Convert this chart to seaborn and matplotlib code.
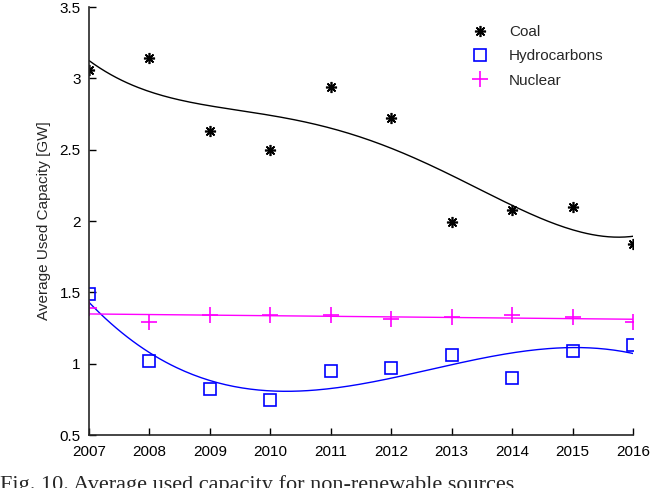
import numpy as np
import pandas as pd
import seaborn as sns
import matplotlib.pyplot as plt

# Data
years = [2007, 2008, 2009, 2010, 2011, 2012, 2013, 2014, 2015, 2016]
coal = [3.06, 3.14, 2.63, 2.50, 2.94, 2.72, 1.99, 2.08, 2.10, 1.84]
hydrocarbons = [1.49, 1.02, 0.82, 0.745, 0.95, 0.97, 1.06, 0.90, 1.09, 1.13]
nuclear = [1.39, 1.29, 1.34, 1.34, 1.34, 1.31, 1.33, 1.34, 1.33, 1.29]

sns.set_style('ticks')
plt.rcParams['font.family'] = ['Liberation Sans', 'DejaVu Sans']

fig = plt.figure(figsize=(6.5, 4.88), dpi=100)
ax = fig.add_axes([0.137, 0.1086, 0.837, 0.877])

series = {'Coal': (coal, 'black', 4),
          'Hydrocarbons': (hydrocarbons, 'blue', 3),
          'Nuclear': (nuclear, 'magenta', 1)}

# polynomial trend lines
xs = np.linspace(2007, 2016, 200)
for name, (vals, col, deg) in series.items():
    p = np.polyfit(np.array(years) - 2007, vals, deg)
    fit = pd.DataFrame({'x': xs, 'y': np.polyval(p, xs - 2007)})
    sns.lineplot(data=fit, x='x', y='y', color=col, lw=1, ax=ax)

df = pd.DataFrame({'year': years, 'Coal': coal, 'Hydrocarbons': hydrocarbons, 'Nuclear': nuclear})
ax.plot(df['year'], df['Coal'], ls='none', marker=(8, 2, 0), ms=8, mew=1.2, color='black', label='Coal')
ax.plot(df['year'], df['Hydrocarbons'], ls='none', marker='s', ms=9, mew=1.2, mfc='none', color='blue', label='Hydrocarbons')
ax.plot(df['year'], df['Nuclear'], ls='none', marker='+', ms=11, mew=1.2, color='magenta', label='Nuclear')

ax.set_xlim(2007, 2016)
ax.set_ylim(0.5, 3.5)
ax.set_xticks(years)
ax.set_yticks([0.5, 1, 1.5, 2, 2.5, 3, 3.5])
ax.set_yticklabels(['0.5', '1', '1.5', '2', '2.5', '3', '3.5'])
ax.tick_params(direction='in', length=5, width=1, labelsize=11, colors='black')
ax.tick_params(axis='x', pad=7)
ax.tick_params(axis='y', pad=6)
ax.set_xlabel('')
ax.set_ylabel('Average Used Capacity [GW]', fontsize=11, labelpad=6)
for s in ['top', 'right']:
    ax.spines[s].set_visible(False)
for s in ['left', 'bottom']:
    ax.spines[s].set_linewidth(1.2)

ax.legend(loc='upper left', bbox_to_anchor=(0.665, 0.99), frameon=False, fontsize=11,
          handletextpad=0.9, labelspacing=0.68)

fig.text(0.0, 0.026, 'Fig. 10. Average used capacity for non-renewable sources',
         family=['Liberation Serif', 'DejaVu Serif'], fontsize=16, va='top')

fig.savefig('out.png', dpi=100)
